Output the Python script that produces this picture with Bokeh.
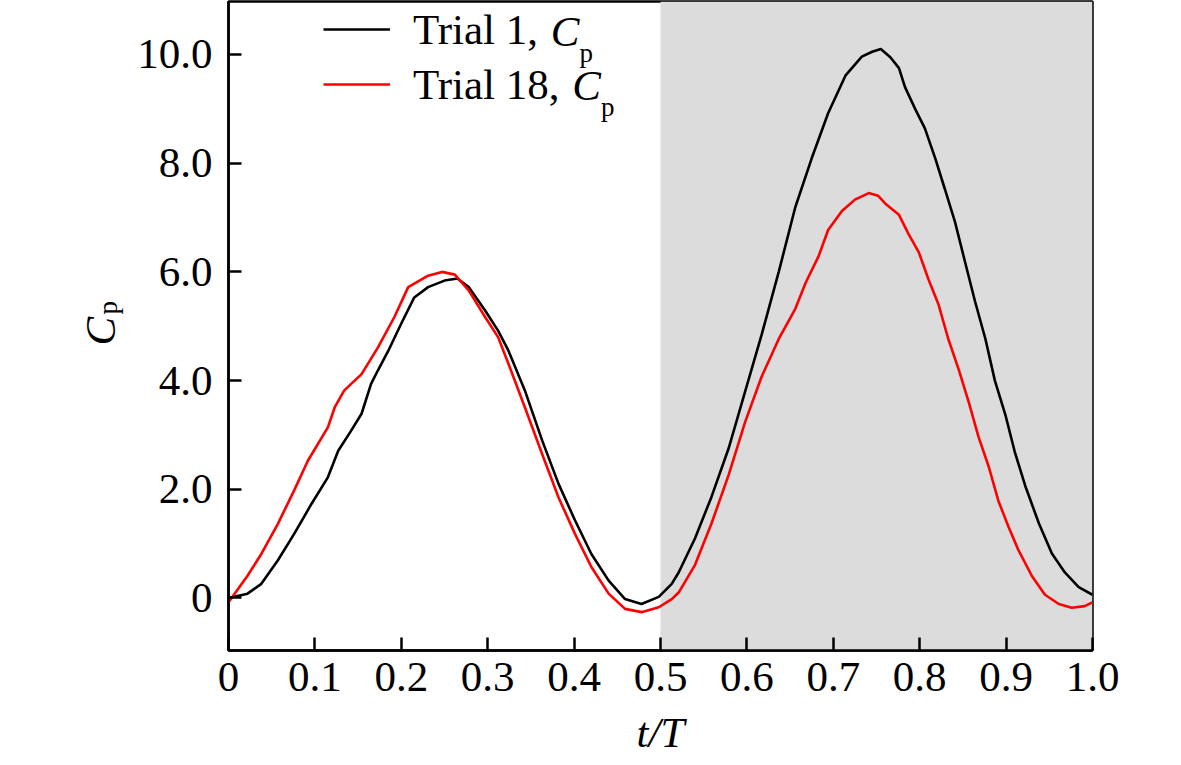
from bokeh.plotting import figure
from bokeh.layouts import row
from bokeh.models import (Range1d, FixedTicker, NumeralTickFormatter, BoxAnnotation,
                          Label, Legend, LegendItem, ColumnDataSource)
from bokeh.embed import file_html
from bokeh.resources import INLINE

# ---------------- data ----------------
t_trial1 = [0.000, 0.022, 0.038, 0.057, 0.076, 0.096, 0.115, 0.127, 0.142, 0.154,
            0.165, 0.173, 0.185, 0.200, 0.215, 0.231, 0.250, 0.265, 0.278, 0.297,
            0.312, 0.324, 0.343, 0.363, 0.382, 0.401, 0.420, 0.440, 0.459, 0.478,
            0.498, 0.513, 0.521, 0.540, 0.559, 0.579, 0.598, 0.617, 0.637, 0.656,
            0.675, 0.694, 0.714, 0.733, 0.745, 0.755, 0.766, 0.776, 0.783, 0.795,
            0.806, 0.818, 0.829, 0.841, 0.853, 0.864, 0.876, 0.887, 0.899, 0.910,
            0.922, 0.938, 0.953, 0.968, 0.984, 1.000]
cp_trial1 = [0.00, 0.08, 0.26, 0.69, 1.18, 1.73, 2.22, 2.71, 3.08, 3.39,
             3.94, 4.19, 4.55, 5.05, 5.53, 5.72, 5.84, 5.88, 5.72, 5.29,
             4.92, 4.55, 3.82, 2.90, 2.10, 1.43, 0.81, 0.32, -0.02, -0.11,
             0.02, 0.26, 0.47, 1.10, 1.86, 2.76, 3.80, 4.84, 6.01, 7.19,
             8.09, 8.92, 9.61, 9.96, 10.05, 10.10, 9.95, 9.75, 9.40, 8.99,
             8.64, 8.09, 7.53, 6.91, 6.15, 5.46, 4.77, 4.00, 3.38, 2.69,
             2.07, 1.37, 0.82, 0.47, 0.20, 0.06]

t_trial18 = [0.000, 0.022, 0.038, 0.057, 0.076, 0.092, 0.115, 0.123, 0.134, 0.154,
             0.173, 0.192, 0.208, 0.231, 0.247, 0.262, 0.278, 0.297, 0.312, 0.324,
             0.343, 0.363, 0.382, 0.401, 0.420, 0.440, 0.459, 0.478, 0.498, 0.513,
             0.521, 0.540, 0.559, 0.579, 0.598, 0.617, 0.637, 0.656, 0.668, 0.683,
             0.694, 0.710, 0.725, 0.741, 0.752, 0.760, 0.776, 0.787, 0.799, 0.810,
             0.822, 0.833, 0.845, 0.857, 0.868, 0.880, 0.891, 0.903, 0.914, 0.930,
             0.945, 0.961, 0.976, 0.991, 1.000]
cp_trial18 = [-0.08, 0.41, 0.81, 1.36, 1.98, 2.53, 3.14, 3.51, 3.82, 4.12,
              4.61, 5.17, 5.72, 5.93, 6.00, 5.95, 5.66, 5.17, 4.80, 4.31,
              3.51, 2.65, 1.85, 1.18, 0.57, 0.08, -0.20, -0.26, -0.17, -0.02,
              0.10, 0.61, 1.37, 2.27, 3.24, 4.07, 4.77, 5.32, 5.80, 6.29,
              6.77, 7.12, 7.33, 7.45, 7.40, 7.26, 7.05, 6.70, 6.36, 5.87,
              5.39, 4.77, 4.21, 3.59, 2.97, 2.41, 1.79, 1.30, 0.89, 0.40,
              0.06, -0.11, -0.18, -0.15, -0.08]

series_labels = ["Trial 1,", "Trial 18,"]
shade_start = 0.5
shade_end = 1.0

x_ticks = [0, 0.1, 0.2, 0.3, 0.4, 0.5, 0.6, 0.7, 0.8, 0.9, 1.0]
x_tick_labels = ["0", "0.1", "0.2", "0.3", "0.4", "0.5", "0.6", "0.7", "0.8", "0.9", "1.0"]
y_ticks = [0, 2, 4, 6, 8, 10]
y_tick_labels = ["0", "2.0", "4.0", "6.0", "8.0", "10.0"]

# ---------------- layout constants ----------------
FONT = "Liberation Serif"
FS = "43px"
SUB = "27px"
H = 764
LEFT_W = 130
Y0, Y1 = -0.966, 10.975
X0, X1 = 0.0, 1.0
BORDER_TOP, BORDER_BOTTOM = 1, 114

# ---------------- main figure ----------------
p = figure(width=1050, height=H,
           x_range=Range1d(X0, X1), y_range=Range1d(Y0, Y1),
           output_backend="svg", toolbar_location=None,
           min_border_left=98, min_border_right=88,
           min_border_top=BORDER_TOP, min_border_bottom=BORDER_BOTTOM)
p.grid.visible = False
p.background_fill_color = "white"
p.border_fill_color = "white"
p.outline_line_color = "black"
p.outline_line_width = 2.5

# shaded half-period
p.add_layout(BoxAnnotation(left=shade_start, right=shade_end,
                           fill_color="#dcdcdc", fill_alpha=1.0,
                           line_alpha=0, level="underlay"))

src1 = ColumnDataSource(dict(t=t_trial1, cp=cp_trial1))
src2 = ColumnDataSource(dict(t=t_trial18, cp=cp_trial18))
r1 = p.line("t", "cp", source=src1, line_color="black", line_width=2.6)
r2 = p.line("t", "cp", source=src2, line_color="#ff0000", line_width=2.6)

# axes with inward ticks
for ax in (p.xaxis[0], p.yaxis[0]):
    ax.axis_line_width = 2.5
    ax.major_tick_in = 13
    ax.major_tick_out = 0
    ax.major_tick_line_width = 2.5
    ax.major_tick_line_color = "black"
    ax.minor_tick_line_color = None
    ax.major_label_text_font = FONT
    ax.major_label_text_font_size = FS
    ax.major_label_text_color = "black"
    ax.formatter = NumeralTickFormatter(format="0.0")

p.xaxis.ticker = FixedTicker(ticks=x_ticks)
p.yaxis.ticker = FixedTicker(ticks=y_ticks)
p.xaxis.major_label_overrides = dict(zip(x_ticks, x_tick_labels))
p.yaxis.major_label_overrides = dict(zip(y_ticks, y_tick_labels))
p.xaxis.major_label_standoff = 12
p.yaxis.major_label_standoff = 16

p.xaxis.axis_label = "t/T"
p.xaxis.axis_label_text_font = FONT
p.xaxis.axis_label_text_font_size = FS
p.xaxis.axis_label_text_font_style = "italic"
p.xaxis.axis_label_text_color = "black"
p.xaxis.axis_label_standoff = 15

# legend
legend = Legend(items=[LegendItem(label=series_labels[0], renderers=[r1]),
                       LegendItem(label=series_labels[1], renderers=[r2])],
                location=(95, 541.5), orientation="vertical",
                glyph_width=67, glyph_height=48, label_height=48,
                label_standoff=23, spacing=6, padding=0, margin=0,
                border_line_alpha=0, background_fill_alpha=0,
                label_text_font=FONT, label_text_font_size=FS,
                label_text_color="black")
p.add_layout(legend)


def txt(fig, x, y, s, size=FS, style="italic", baseline="alphabetic", align="left", angle=0):
    fig.add_layout(Label(x=x, y=y, text=s, text_font=FONT, text_font_size=size,
                         text_font_style=style, text_baseline=baseline,
                         text_align=align, angle=angle, text_color="black"))


# legend "C_p" parts
txt(p, 0.3730, 10.432, "C", baseline="middle")
txt(p, 0.4063, 10.036, "p", size=SUB, style="normal")
txt(p, 0.3979, 9.438, "C", baseline="middle")
txt(p, 0.4311, 9.043, "p", size=SUB, style="normal")

# ---------------- y-axis title panel (same vertical scale as main plot) ----------------
q = figure(width=LEFT_W, height=H, x_range=Range1d(0, LEFT_W), y_range=Range1d(Y0, Y1),
           output_backend="svg", toolbar_location=None,
           x_axis_type=None, y_axis_type=None,
           min_border_left=0, min_border_right=0,
           min_border_top=BORDER_TOP, min_border_bottom=BORDER_BOTTOM)
q.grid.visible = False
q.outline_line_color = None
q.background_fill_color = "white"
q.border_fill_color = "white"
txt(q, 100, 4.646, "C", angle=1.5707963)
txt(q, 107, 5.216, "p", size=SUB, style="normal", angle=1.5707963)

layout = row(q, p, spacing=0)
open("out.html", "w").write(file_html(layout, INLINE))
